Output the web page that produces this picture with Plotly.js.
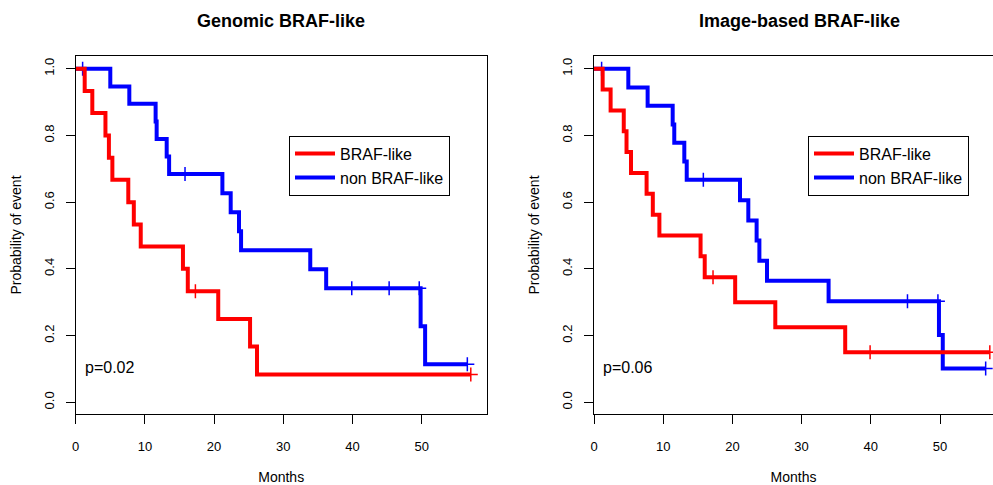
<!DOCTYPE html>
<html>
<head>
<meta charset="utf-8">
<script src="https://cdn.plot.ly/plotly-3.0.1.min.js"></script>
<style>html,body{margin:0;padding:0;background:#fff;}#chart{width:993px;height:485px;}</style>
</head>
<body>
<div id="chart"></div>
<script>
// ---- Data (Kaplan-Meier step curves) ----
// Panel 1: Genomic BRAF-like
const genBrafTime   = [0, 1.3, 2.4, 4.3, 4.8, 5.3, 7.6, 8.4, 9.4, 15.5, 16.2, 20.6, 25.2, 26.2, 57.1];
const genBrafSurv   = [1, 0.933, 0.867, 0.8, 0.733, 0.667, 0.6, 0.533, 0.467, 0.4, 0.333, 0.25, 0.167, 0.083, 0.083];
const genBrafCensT  = [17.3, 57.1];
const genBrafCensS  = [0.333, 0.083];

const genNonTime    = [0, 5.0, 7.75, 11.55, 11.7, 13.15, 13.5, 21.2, 22.4, 23.6, 23.9, 33.9, 36.2, 49.85, 50.5, 56.6];
const genNonSurv    = [1, 0.947, 0.895, 0.842, 0.789, 0.737, 0.684, 0.627, 0.570, 0.513, 0.456, 0.399, 0.342, 0.228, 0.114, 0.114];
const genNonCensT   = [1.0, 15.8, 39.9, 45.3, 49.65, 56.6];
const genNonCensS   = [1, 0.684, 0.342, 0.342, 0.342, 0.114];

// Panel 2: Image-based BRAF-like
const imgBrafTime   = [0, 1.25, 2.4, 4.3, 4.7, 5.35, 7.6, 8.5, 9.45, 15.4, 16.0, 20.4, 26.2, 36.3, 57.2];
const imgBrafSurv   = [1, 0.9375, 0.875, 0.8125, 0.75, 0.6875, 0.625, 0.5625, 0.5, 0.4375, 0.375, 0.3, 0.225, 0.15, 0.15];
const imgBrafCensT  = [17.2, 39.9, 57.2];
const imgBrafCensS  = [0.375, 0.15, 0.15];

const imgNonTime    = [0, 4.96, 7.75, 11.37, 11.6, 13.05, 13.4, 21.1, 22.3, 23.5, 23.9, 25.0, 33.9, 49.85, 50.4, 56.6];
const imgNonSurv    = [1, 0.944, 0.889, 0.833, 0.778, 0.722, 0.667, 0.606, 0.545, 0.485, 0.424, 0.364, 0.303, 0.202, 0.101, 0.101];
const imgNonCensT   = [1.1, 15.8, 45.3, 49.7, 56.6];
const imgNonCensS   = [1, 0.667, 0.303, 0.303, 0.101];

const seriesNames = ['BRAF-like', 'non BRAF-like'];
const panelTitles = ['Genomic BRAF-like', 'Image-based BRAF-like'];
const pValues     = ['p=0.02', 'p=0.06'];
const xTickVals   = [0, 10, 20, 30, 40, 50];
const yTickVals   = [0, 0.2, 0.4, 0.6, 0.8, 1.0];
const xAxisLabel  = 'Months';
const yAxisLabel  = 'Probability of event';

// ---- Styling ----
const RED = '#FF0000', BLUE = '#0000FF';
const FONT = 'Liberation Sans, Arial, Helvetica, sans-serif';

function stepTrace(x, y, color, name, xa, ya, lg, rank) {
  return {type:'scatter', mode:'lines', x:x, y:y, name:name,
    line:{color:color, width:4, shape:'hv'}, xaxis:xa, yaxis:ya,
    legend:lg, legendrank:rank, hoverinfo:'skip'};
}
function censTrace(x, y, color, xa, ya) {
  return {type:'scatter', mode:'markers', x:x, y:y, showlegend:false,
    marker:{symbol:'cross-thin', size:10, color:color, line:{color:color, width:1.5}},
    xaxis:xa, yaxis:ya, hoverinfo:'skip'};
}

const data = [
  stepTrace(genNonTime, genNonSurv, BLUE, seriesNames[1], 'x', 'y', 'legend', 2),
  censTrace(genNonCensT, genNonCensS, BLUE, 'x', 'y'),
  stepTrace(genBrafTime, genBrafSurv, RED, seriesNames[0], 'x', 'y', 'legend', 1),
  censTrace(genBrafCensT, genBrafCensS, RED, 'x', 'y'),
  stepTrace(imgNonTime, imgNonSurv, BLUE, seriesNames[1], 'x2', 'y2', 'legend2', 2),
  censTrace(imgNonCensT, imgNonCensS, BLUE, 'x2', 'y2'),
  stepTrace(imgBrafTime, imgBrafSurv, RED, seriesNames[0], 'x2', 'y2', 'legend2', 1),
  censTrace(imgBrafCensT, imgBrafCensS, RED, 'x2', 'y2')
];

const W = 993, H = 485;
const yDom = [1 - 414.3 / H, 1 - 55.7 / H];

function xAxis(domain, range, anchor) {
  return {domain:domain, range:range, anchor:anchor, autorange:false,
    tickvals:xTickVals, ticks:'outside', ticklen:9, tickwidth:1, tickcolor:'#000',
    showline:true, mirror:true, linecolor:'#000', linewidth:1,
    showgrid:false, zeroline:false, ticklabelstandoff:11,
    tickfont:{family:FONT, size:13, color:'#000'},
    title:{text:xAxisLabel, font:{family:FONT, size:14, color:'#000'}, standoff:21}};
}
function yAxis(anchor) {
  return {domain:yDom, range:[-0.036, 1.039], anchor:anchor, autorange:false,
    tickvals:yTickVals, tickformat:'.1f', ticks:'outside', ticklen:9, tickwidth:1, tickcolor:'#000',
    tickangle:-90, showline:true, mirror:true, linecolor:'#000', linewidth:1,
    showgrid:false, zeroline:false, ticklabelstandoff:7,
    tickfont:{family:FONT, size:13, color:'#000'},
    title:{text:yAxisLabel, font:{family:FONT, size:14, color:'#000'}, standoff:16}};
}
function legendBox(x) {
  return {x:x, y:1 - 135.7 / H, xanchor:'left', yanchor:'top', xref:'paper', yref:'paper',
    bgcolor:'#fff', bordercolor:'#000', borderwidth:1,
    font:{family:FONT, size:16, color:'#000'}, itemwidth:40, tracegroupgap:0};
}

const layout = {
  width:W, height:H,
  margin:{l:0, r:0, t:0, b:0, pad:0},
  paper_bgcolor:'#fff', plot_bgcolor:'#fff',
  font:{family:FONT, color:'#000'},
  xaxis: xAxis([75.7 / W, 486.7 / W], [0, 59.4], 'y'),
  yaxis: yAxis('x'),
  xaxis2: xAxis([594 / W, 1], [0, (W - 594) / 6.92], 'y2'),
  yaxis2: yAxis('x2'),
  legend: legendBox(289 / W),
  legend2: legendBox(808 / W),
  annotations: [
    {text:'<b>' + panelTitles[0] + '</b>', xref:'paper', yref:'paper', x:281.2 / W, y:1 - 21 / H,
     xanchor:'center', yanchor:'middle', showarrow:false, font:{family:FONT, size:18, color:'#000'}},
    {text:'<b>' + panelTitles[1] + '</b>', xref:'paper', yref:'paper', x:799.5 / W, y:1 - 21 / H,
     xanchor:'center', yanchor:'middle', showarrow:false, font:{family:FONT, size:18, color:'#000'}},
    {text:pValues[0], xref:'x', yref:'y', x:1.0, y:0.103, xanchor:'left', yanchor:'middle',
     showarrow:false, font:{family:FONT, size:16, color:'#000'}},
    {text:pValues[1], xref:'x2', yref:'y2', x:1.0, y:0.103, xanchor:'left', yanchor:'middle',
     showarrow:false, font:{family:FONT, size:16, color:'#000'}}
  ]
};

Plotly.newPlot('chart', data, layout, {displayModeBar:false, staticPlot:true});
</script>
</body>
</html>
